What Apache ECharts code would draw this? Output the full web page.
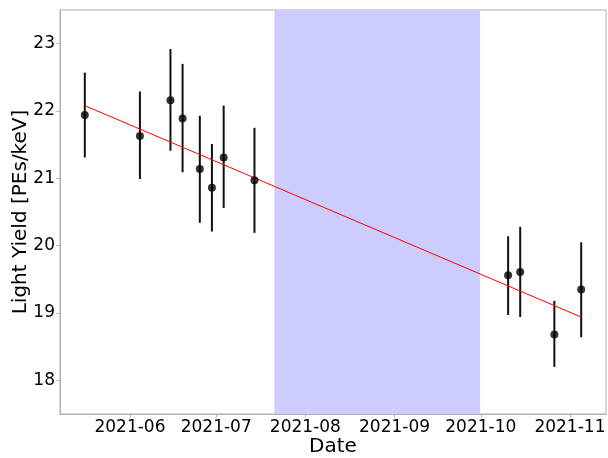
<!DOCTYPE html>
<html>
<head>
<meta charset="utf-8">
<script src="https://cdn.jsdelivr.net/npm/echarts@6/dist/echarts.min.js"></script>
<style>
  html, body { margin: 0; padding: 0; background: #fff; }
  #chart { width: 608px; height: 458px; }
</style>
</head>
<body>
<div id="chart"></div>
<script>
// measurement dates, light yield and 1-sigma errors
const dates = [
  '2021-05-16 07:00', '2021-06-04 11:00', '2021-06-15 02:00', '2021-06-19 07:00',
  '2021-06-25 07:00', '2021-06-29 12:00', '2021-07-03 14:00', '2021-07-14 07:00',
  '2021-10-10 12:00', '2021-10-14 17:00', '2021-10-26 14:00', '2021-11-04 22:00'
];
const lightYield = [21.94, 21.63, 22.16, 21.89, 21.14, 20.86, 21.31, 20.97, 19.56, 19.61, 18.68, 19.35];
const errLow = [21.31, 20.99, 21.41, 21.09, 20.34, 20.21, 20.56, 20.19, 18.97, 18.94, 18.20, 18.64];
const errHigh = [22.57, 22.29, 22.92, 22.70, 21.93, 21.51, 22.08, 21.75, 20.14, 20.28, 19.18, 20.05];

// linear fit end points
const fitDates = ['2021-05-16 07:00', '2021-11-04 22:00'];
const fitValues = [22.08, 18.94];

// shaded period
const spanStart = '2021-07-21 05:00';
const spanEnd = '2021-09-30 18:00';

// ticks
const monthTicks = ['2021-06-01', '2021-07-01', '2021-08-01', '2021-09-01', '2021-10-01', '2021-11-01'];
const yTicks = [18, 19, 20, 21, 22, 23];

const xMin = '2021-05-07 16:00';
const xMax = '2021-11-13 13:00';

const toTime = s => {
  const [d, t] = s.split(' ');
  const [y, m, dd] = d.split('-').map(Number);
  const [hh, mm] = (t || '00:00').split(':').map(Number);
  return new Date(y, m - 1, dd, hh, mm).getTime();
};

const chart = echarts.init(document.getElementById('chart'));

const axisLineStyle = { color: '#b0b0b0', width: 1 };
const tickStyle = { color: '#b0b0b0', width: 1 };

const option = {
  animation: false,
  backgroundColor: '#fff',
  grid: {
    left: 60, right: 2, top: 10, bottom: 44,
    show: true, borderColor: '#b0b0b0', borderWidth: 1,
    outerBoundsMode: 'none'
  },
  xAxis: {
    type: 'time',
    min: toTime(xMin),
    max: toTime(xMax),
    name: 'Date',
    nameLocation: 'middle',
    nameGap: 23,
    nameMoveOverlap: false,
    nameTextStyle: { fontFamily: 'DejaVu Sans', fontSize: 20, color: '#000' },
    axisLine: { show: true, lineStyle: axisLineStyle },
    axisTick: { show: true, length: 3.5, lineStyle: tickStyle, customValues: monthTicks.map(toTime) },
    axisLabel: {
      fontFamily: 'DejaVu Sans', fontSize: 17, color: '#000', margin: 5,
      customValues: monthTicks.map(toTime),
      formatter: '{yyyy}-{MM}'
    },
    splitLine: { show: false }
  },
  yAxis: {
    type: 'value',
    min: 17.5,
    max: 23.5,
    name: 'Light Yield [PEs/keV]',
    nameLocation: 'middle',
    nameGap: 29,
    nameMoveOverlap: false,
    nameTextStyle: { fontFamily: 'DejaVu Sans', fontSize: 20, color: '#000' },
    axisLine: { show: true, lineStyle: axisLineStyle },
    axisTick: { show: true, length: 3.5, lineStyle: tickStyle, customValues: yTicks },
    axisLabel: {
      fontFamily: 'DejaVu Sans', fontSize: 17, color: '#000', margin: 5,
      customValues: yTicks
    },
    splitLine: { show: false }
  },
  series: [
    {
      type: 'line',
      data: fitDates.map((d, i) => [toTime(d), fitValues[i]]),
      symbol: 'none',
      lineStyle: { color: '#ff0000', width: 1 },
      z: 3,
      markArea: {
        silent: true,
        itemStyle: { color: '#ccccff', opacity: 1 },
        data: [[{ xAxis: toTime(spanStart) }, { xAxis: toTime(spanEnd) }]]
      }
    },
    {
      type: 'custom',
      data: dates.map((d, i) => [toTime(d), errLow[i], errHigh[i]]),
      encode: { x: 0, y: [1, 2] },
      z: 2,
      renderItem: (params, api) => {
        const a = api.coord([api.value(0), api.value(1)]);
        const b = api.coord([api.value(0), api.value(2)]);
        return {
          type: 'line',
          shape: { x1: a[0], y1: a[1], x2: b[0], y2: b[1] },
          style: { stroke: '#111', lineWidth: 2 }
        };
      }
    },
    {
      type: 'scatter',
      data: dates.map((d, i) => [toTime(d), lightYield[i]]),
      symbol: 'circle',
      symbolSize: 8,
      itemStyle: { color: '#000' },
      z: 4
    }
  ]
};

chart.setOption(option);
</script>
</body>
</html>
